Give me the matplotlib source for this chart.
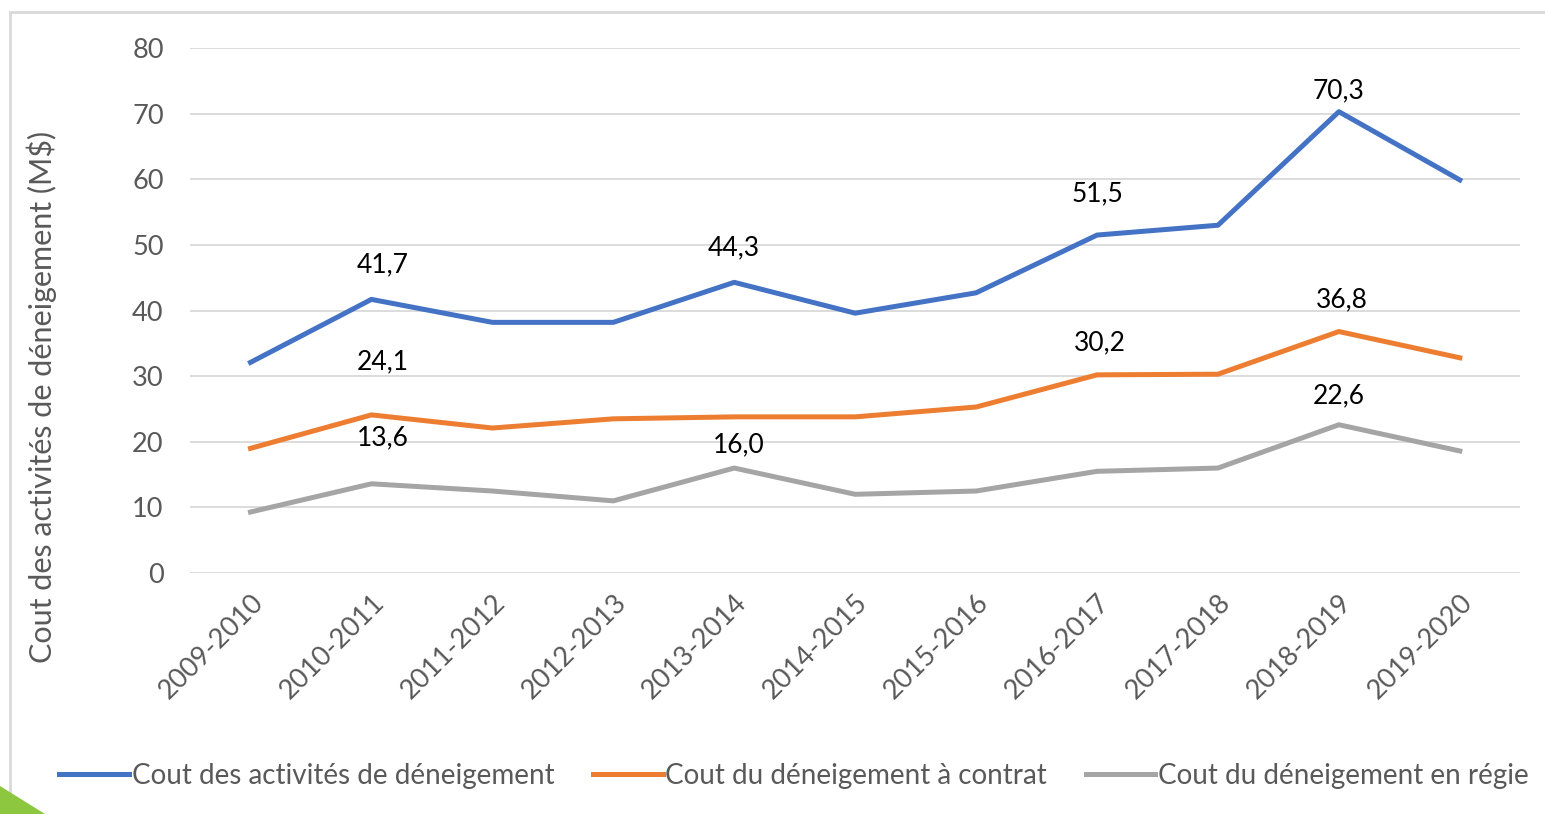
import matplotlib.pyplot as plt
from matplotlib.patches import Rectangle, Polygon

# saisons
saisons = ['2009-2010', '2010-2011', '2011-2012', '2012-2013', '2013-2014',
           '2014-2015', '2015-2016', '2016-2017', '2017-2018', '2018-2019',
           '2019-2020']

# couts en M$
cout_total = [32.1, 41.7, 38.2, 38.2, 44.3, 39.6, 42.7, 51.5, 53.0, 70.3, 59.9]
cout_contrat = [19.0, 24.1, 22.1, 23.5, 23.8, 23.8, 25.3, 30.2, 30.3, 36.8, 32.8]
cout_regie = [9.3, 13.6, 12.5, 11.0, 16.0, 12.0, 12.5, 15.5, 16.0, 22.6, 18.6]

# index des points avec etiquette
etiquettes_total = [1, 4, 7, 9]
etiquettes_contrat = [1, 7, 9]
etiquettes_regie = [1, 4, 9]

plt.rcParams['font.family'] = ['Lato', 'DejaVu Sans']

fig = plt.figure(figsize=(15.45, 8.14), dpi=100)
ax = fig.add_axes([0.123, 0.296, 0.861, 0.645])

x = list(range(len(saisons)))
l1, = ax.plot(x, cout_total, color='#4472C4', linewidth=3.6, label='Cout des activités de déneigement', zorder=3)
l2, = ax.plot(x, cout_contrat, color='#ED7D31', linewidth=3.6, label='Cout du déneigement à contrat', zorder=3)
l3, = ax.plot(x, cout_regie, color='#A5A5A5', linewidth=3.6, label='Cout du déneigement en régie', zorder=3)


def etiquette(serie, i, dx, dy):
    ax.annotate(f'{serie[i]:.1f}'.replace('.', ','), (i, serie[i]),
                xytext=(dx, dy), textcoords='offset points',
                ha='center', va='center', fontsize=19, color='black')


# decalages des etiquettes (points)
for i in etiquettes_total:
    etiquette(cout_total, i, 8 if i == 1 else 0, {1: 25, 4: 25, 7: 30, 9: 15}[i])
for i in etiquettes_contrat:
    etiquette(cout_contrat, i, 8 if i == 1 else 2, {1: 38, 7: 23, 9: 23}[i])
for i in etiquettes_regie:
    etiquette(cout_regie, i, {1: 8, 4: 3, 9: 0}[i], {1: 33, 4: 17, 9: 21}[i])

ax.set_xlim(-0.5, 10.5)
ax.set_ylim(0, 80)
ax.set_yticks(range(0, 81, 10))
ax.set_xticks(x)
ax.set_xticklabels(saisons, rotation=45, ha='right', rotation_mode='anchor')
ax.tick_params(axis='both', length=0, labelsize=19.5, labelcolor='#595959')
ax.tick_params(axis='y', pad=19)
ax.tick_params(axis='x', pad=12)
ax.grid(axis='y', color='#D9D9D9', linewidth=1.3)
ax.set_axisbelow(True)
for s in ax.spines.values():
    s.set_visible(False)
ax.set_ylabel('Cout des activités de déneigement (M$)', fontsize=22, color='#595959')
ax.yaxis.set_label_coords(-0.1, 0.335)

fig.legend(handles=[l1, l2, l3], loc='center', bbox_to_anchor=(0.514, 0.047), ncol=3,
           frameon=False, fontsize=20, labelcolor='#595959', handlelength=2.5,
           handletextpad=0.1, columnspacing=1.4)

# cadre et decoration
fig.patches.append(Rectangle((10 / 1545, -0.1), 1.2, 1.1 - 12 / 814, transform=fig.transFigure,
                             fill=False, edgecolor='#D9D9D9', linewidth=2))
fig.patches.append(Polygon([(0, 0), (0, 28 / 814), (45 / 1545, 0)], closed=True,
                           transform=fig.transFigure, facecolor='#8DC63F', edgecolor='none'))

fig.savefig('out.png', dpi=100)
